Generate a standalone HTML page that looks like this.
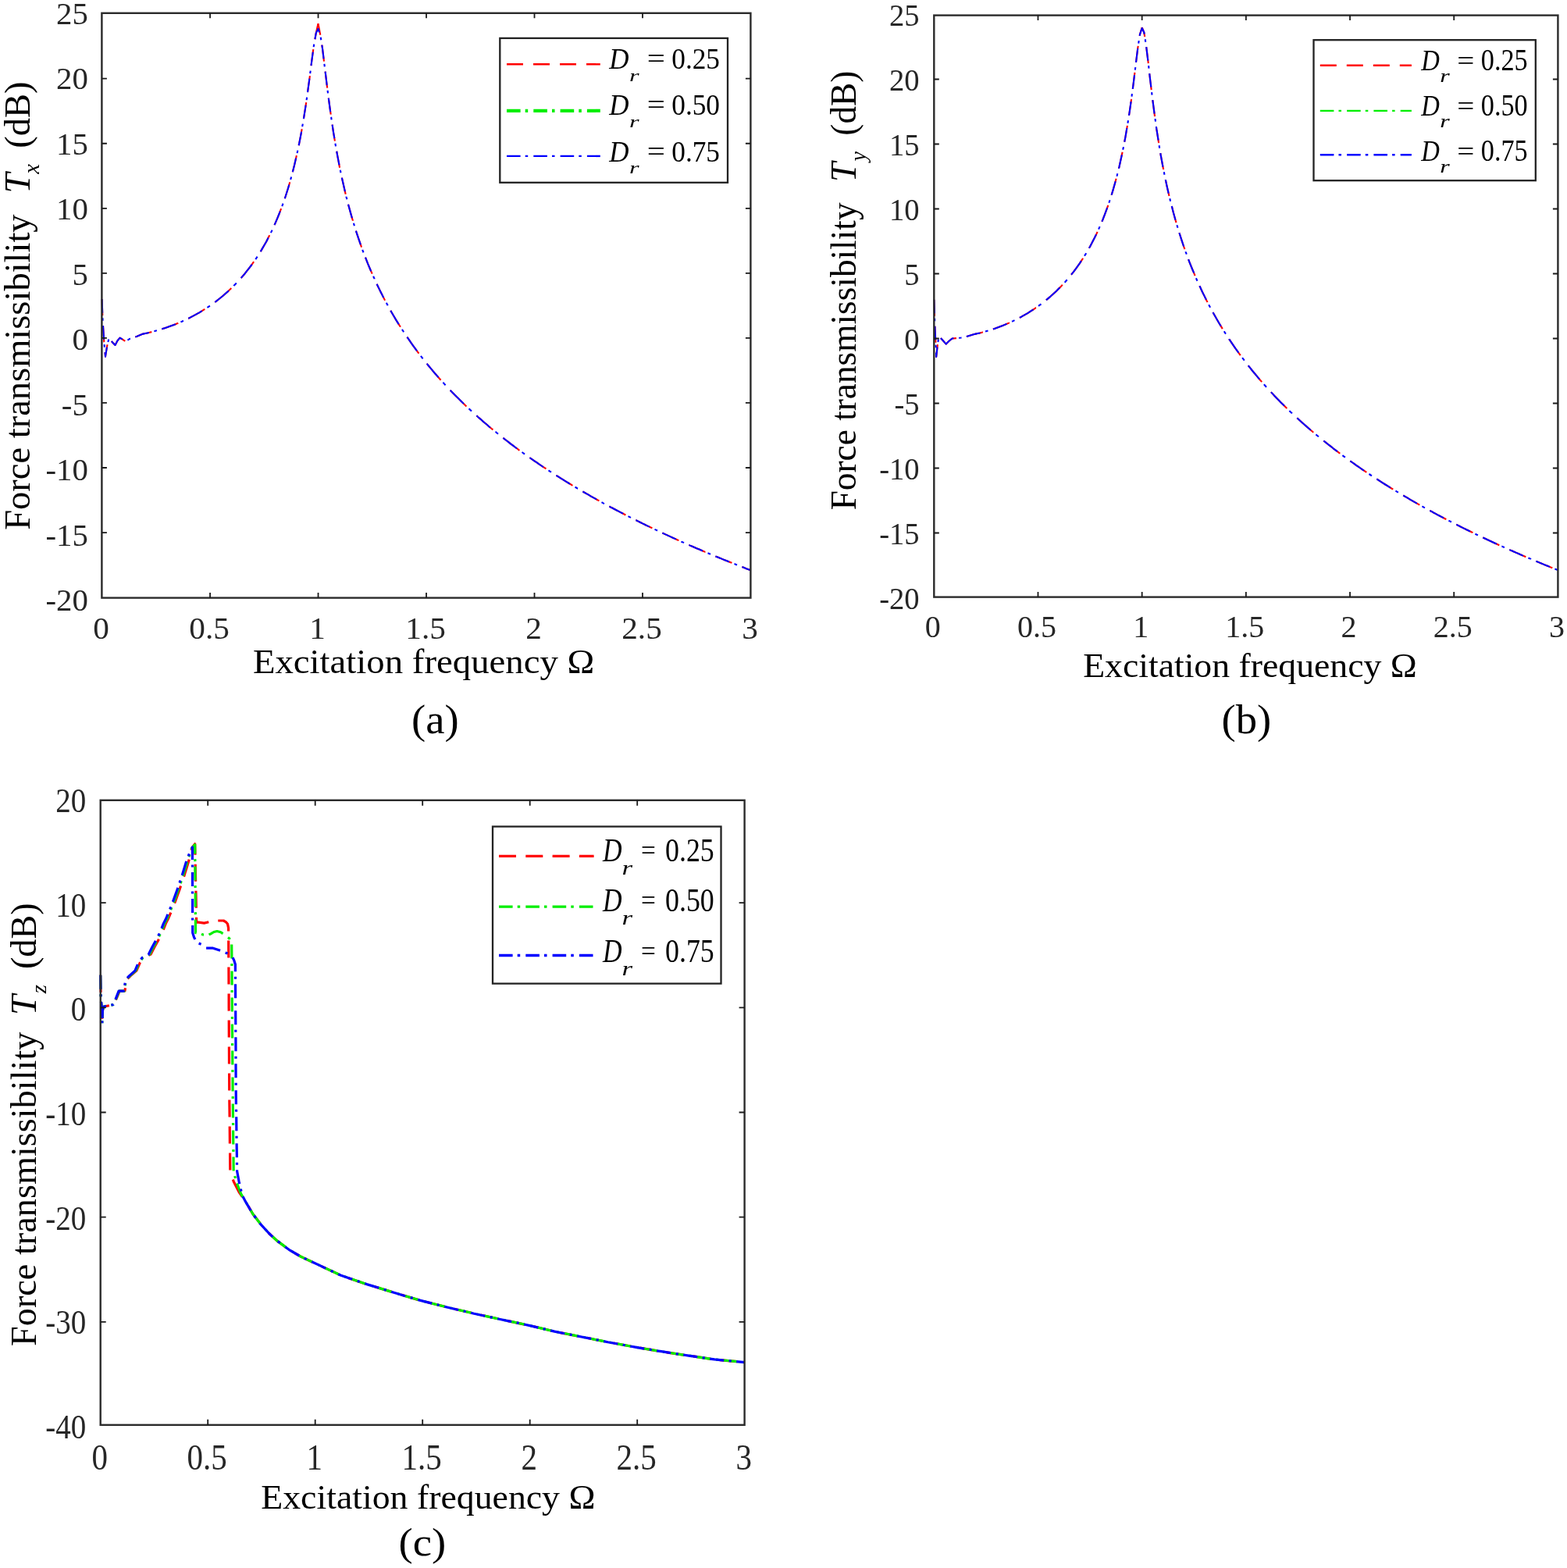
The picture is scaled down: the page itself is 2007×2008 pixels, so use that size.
<!DOCTYPE html>
<html><head><meta charset="utf-8"><title>Force transmissibility</title>
<style>html,body{margin:0;padding:0;background:#fff;} svg{display:block;}</style>
</head><body>
<svg width="2007" height="2008" viewBox="0 0 2007 2008" font-family="Liberation Serif, serif">
<rect width="2007" height="2008" fill="#fff"/>
<path d="M130.6 383.1L131.3 404.1M132.0 417.1L133.3 437.9L133.4 438.1M134.5 451.1L135.0 456.7L137.2 442.9L137.6 441.2M142.9 436.9L143.6 437.9L147.5 441.9L150.5 436.2L153.6 432.6L156.9 434.6L160.3 436.9M173.3 431.6L179.0 429.2L183.2 427.6L186.0 427.0L188.7 426.4L191.5 425.7L194.3 425.1L194.3 425.1M207.3 421.4L208.1 421.1L210.9 420.2L213.7 419.3L216.4 418.3L219.2 417.3L222.0 416.3L224.7 415.2L227.5 414.1L228.3 413.7M241.3 407.8L241.4 407.8L244.1 406.4L246.9 404.9L249.7 403.4L252.4 401.9L255.2 400.3L258.0 398.6L260.7 396.9L262.3 395.9M275.3 387.0L277.4 385.4L280.1 383.2L282.9 381.0L285.7 378.7L288.4 376.3L291.2 373.9L294.0 371.3L296.3 369.1M308.7 356.2L310.6 353.9L313.4 350.7L316.1 347.2L318.9 343.7L321.7 340.0L324.4 336.2L325.1 335.2M333.7 322.2L335.5 319.1L338.3 314.3L341.1 309.4L343.8 304.1L345.3 301.2M351.5 288.2L352.1 286.8L354.9 280.3L357.7 273.5L360.1 267.2M364.8 254.2L366.0 250.5L368.8 241.7L371.3 233.2M374.8 220.2L377.1 211.3L379.8 199.5L379.9 199.2M382.7 186.2L385.4 172.4L386.7 165.2M388.9 152.2L390.9 139.6L392.2 131.2M394.0 118.2L396.5 100.2L396.9 97.2M398.5 84.2L399.2 78.7L401.3 63.2M403.4 50.2L404.8 42.2L407.5 30.3" fill="none" stroke="#ff0000" stroke-width="2.1" stroke-linejoin="round"/>
<path d="M407.5 30.3L410.3 44.7M412.3 57.7L413.1 62.9L415.0 78.7M416.6 91.7L418.6 108.2L419.2 112.7M420.8 125.7L421.4 130.0L423.7 146.7M425.6 159.7L426.9 168.6L428.9 180.7M431.2 193.7L432.5 200.9L435.1 214.7M437.9 227.7L438.0 228.3L440.8 240.6L442.7 248.7M446.0 261.7L446.3 262.8L449.1 272.9L451.9 282.5L451.9 282.7M455.9 295.7L457.4 300.2L460.2 308.4L462.9 316.2L463.1 316.7M468.0 329.7L468.5 330.9L471.2 337.8L474.0 344.5L476.7 350.7M482.6 363.7L485.1 368.9L487.9 374.5L490.6 379.9L493.1 384.7M500.3 397.7L501.7 400.2L504.5 405.0L507.2 409.6L510.0 414.1L512.8 418.5L512.9 418.7M521.4 431.7L523.9 435.2L526.6 439.2L529.4 443.1L532.2 446.9L534.9 450.6L536.5 452.7M546.7 465.7L548.8 468.3L551.6 471.6L554.3 474.9L557.1 478.2L559.9 481.4L562.6 484.5L564.6 486.7M576.6 499.7L579.3 502.4L582.0 505.2L584.8 508.1L587.6 510.8L590.3 513.5L593.1 516.2L595.9 518.9L597.4 520.4M610.4 532.3L612.5 534.2L615.3 536.6L618.0 539.1L620.8 541.5L623.6 543.8L626.3 546.2L629.1 548.5L631.4 550.4M644.4 560.8L645.7 561.9L648.5 564.0L651.3 566.2L654.0 568.3L656.8 570.4L659.6 572.5L662.4 574.5L665.1 576.6L665.4 576.8M678.4 586.1L679.0 586.5L681.7 588.4L684.5 590.3L687.3 592.2L690.0 594.1L692.8 596.0L695.6 597.9L698.4 599.7L699.4 600.4M712.4 608.8L715.0 610.4L717.7 612.2L720.5 613.9L723.3 615.6L726.1 617.3L728.8 619.0L731.6 620.7L733.4 621.8M746.4 629.5L748.2 630.5L751.0 632.1L753.8 633.7L756.5 635.3L759.3 636.9L762.1 638.4L764.8 640.0L767.4 641.4M780.4 648.5L781.4 649.1L784.2 650.5L787.0 652.0L789.8 653.5L792.5 654.9L795.3 656.4L798.1 657.8L800.8 659.2L801.4 659.5M814.4 666.1L814.7 666.2L817.5 667.6L820.2 669.0L823.0 670.4L825.8 671.7L828.5 673.1L831.3 674.4L834.1 675.7L835.4 676.4M848.4 682.5L850.7 683.6L853.5 684.9L856.2 686.1L859.0 687.4L861.8 688.7L864.5 689.9L867.3 691.2L869.4 692.1M882.4 697.9L883.9 698.6L886.7 699.8L889.5 701.0L892.2 702.2L895.0 703.3L897.8 704.5L900.5 705.7L903.3 706.9L903.4 706.9M916.4 712.4L917.2 712.7L919.9 713.8L922.7 714.9L925.5 716.1L928.2 717.2L931.0 718.3L933.8 719.4L936.6 720.5L937.4 720.9M950.4 726.0L953.2 727.1L955.9 728.2L958.7 729.2L961.5 730.3" fill="none" stroke="#ff0000" stroke-width="2.1" stroke-linejoin="round"/>
<path d="M130.6 383.1L131.2 400.7M131.5 407.2L131.6 410.7M132.0 417.1L133.1 434.7M133.6 441.2L133.9 444.7M134.5 451.1L135.0 456.7L136.9 444.6M138.4 438.1L139.2 434.6M142.9 436.9L143.6 437.9L147.5 441.9L150.5 436.2L153.6 432.6L156.9 434.6L156.9 434.6M163.4 435.6L166.6 433.7L166.9 433.6M173.3 431.6L179.0 429.2L183.2 427.6L186.0 427.0L188.7 426.4L190.9 425.9M197.4 424.2L199.8 423.6L200.9 423.3M207.3 421.4L208.1 421.1L210.9 420.2L213.7 419.3L216.4 418.3L219.2 417.3L222.0 416.3L224.7 415.2L224.9 415.1M231.4 412.4L233.0 411.7L234.9 410.8M241.3 407.8L241.4 407.8L244.1 406.4L246.9 404.9L249.7 403.4L252.4 401.9L255.2 400.3L258.0 398.6L258.9 398.1M265.4 393.9L266.3 393.3L268.9 391.6M275.3 387.0L277.4 385.4L280.1 383.2L282.9 381.0L285.7 378.7L288.4 376.3L291.2 373.9L292.9 372.3M299.4 366.1L299.5 365.9L302.3 363.1L302.8 362.6M308.7 356.2L310.6 353.9L313.4 350.7L316.1 347.2L318.9 343.7L321.7 340.0L322.7 338.6M327.3 332.1L329.6 328.6M333.7 322.2L335.5 319.1L338.3 314.3L341.1 309.4L343.6 304.6M346.9 298.1L348.6 294.6M351.5 288.2L352.1 286.8L354.9 280.3L357.7 273.5L358.8 270.6M361.3 264.1L362.5 260.6M364.8 254.2L366.0 250.5L368.8 241.7L370.3 236.6M372.2 230.1L373.1 226.6M374.8 220.2L377.1 211.3L379.1 202.6M380.6 196.1L381.3 192.6M382.7 186.2L385.4 172.4L386.1 168.6M387.2 162.1L387.8 158.6M388.9 152.2L390.9 139.6L391.7 134.6M392.6 128.1L393.1 124.6M394.0 118.2L396.4 100.6M397.2 94.1L397.7 90.6M398.5 84.2L399.2 78.7L400.8 66.6M401.7 60.1L402.0 58.0L402.2 56.6M403.4 50.2L404.8 42.2L407.5 36.9L409.0 41.3M410.7 47.8L411.3 51.3M412.3 57.7L413.1 62.9L414.6 75.3M415.4 81.8L415.8 85.3L415.8 85.3M416.6 91.7L418.6 108.2L418.8 109.3M419.6 115.8L420.0 119.3M420.8 125.7L421.4 130.0L423.2 143.3M424.1 149.8L424.2 150.1L424.6 153.3M425.6 159.7L426.9 168.6L428.4 177.3M429.4 183.8L429.7 185.4L430.0 187.3M431.2 193.7L432.5 200.9L434.5 211.3M435.8 217.8L436.5 221.3M437.9 227.7L438.0 228.3L440.8 240.6L441.9 245.3M443.5 251.8L443.5 252.1L444.4 255.3M446.0 261.7L446.3 262.8L449.1 272.9L450.9 279.3M452.9 285.8L453.9 289.3M455.9 295.7L457.4 300.2L460.2 308.4L461.9 313.3M464.2 319.8L465.5 323.3M468.0 329.7L468.5 330.9L471.2 337.8L474.0 344.5L475.2 347.3M478.1 353.8L479.6 357.1L479.6 357.3M482.6 363.7L485.1 368.9L487.9 374.5L490.6 379.9L491.3 381.3M494.8 387.8L496.2 390.3L496.7 391.3M500.3 397.7L501.7 400.2L504.5 405.0L507.2 409.6L510.0 414.1L510.7 415.3M514.9 421.8L515.6 422.8L517.1 425.3M521.4 431.7L523.9 435.2L526.6 439.2L529.4 443.1L532.2 446.9L534.0 449.3M538.9 455.8L540.5 457.9L541.6 459.3M546.7 465.7L548.8 468.3L551.6 471.6L554.3 474.9L557.1 478.2L559.9 481.4L561.6 483.3M567.4 489.8L568.2 490.6L570.6 493.3M576.6 499.7L579.3 502.4L582.0 505.2L584.8 508.1L587.6 510.8L590.3 513.5L593.1 516.2L594.0 517.1M600.5 523.3L601.4 524.1L604.0 526.5M610.4 532.3L612.5 534.2L615.3 536.6L618.0 539.1L620.8 541.5L623.6 543.8L626.3 546.2L628.0 547.6M634.5 552.9L634.7 553.0L637.4 555.3L638.0 555.8M644.4 560.8L645.7 561.9L648.5 564.0L651.3 566.2L654.0 568.3L656.8 570.4L659.6 572.5L662.0 574.3M668.5 579.0L670.7 580.6L672.0 581.6M678.4 586.1L679.0 586.5L681.7 588.4L684.5 590.3L687.3 592.2L690.0 594.1L692.8 596.0L695.6 597.9L696.0 598.1M702.5 602.4L703.9 603.3L706.0 604.7M712.4 608.8L715.0 610.4L717.7 612.2L720.5 613.9L723.3 615.6L726.1 617.3L728.8 619.0L730.0 619.8M736.5 623.7L737.1 624.0L739.9 625.7L740.0 625.7M746.4 629.5L748.2 630.5L751.0 632.1L753.8 633.7L756.5 635.3L759.3 636.9L762.1 638.4L764.0 639.5M770.5 643.1L773.1 644.6L774.0 645.0M780.4 648.5L781.4 649.1L784.2 650.5L787.0 652.0L789.8 653.5L792.5 654.9L795.3 656.4L798.0 657.8M804.5 661.1L806.4 662.1L808.0 662.9M814.4 666.1L814.7 666.2L817.5 667.6L820.2 669.0L823.0 670.4L825.8 671.7L828.5 673.1L831.3 674.4L832.0 674.7M838.5 677.9L839.6 678.4L842.0 679.5M848.4 682.5L850.7 683.6L853.5 684.9L856.2 686.1L859.0 687.4L861.8 688.7L864.5 689.9L866.0 690.6M872.5 693.5L872.8 693.7L875.6 694.9L876.0 695.1M882.4 697.9L883.9 698.6L886.7 699.8L889.5 701.0L892.2 702.2L895.0 703.3L897.8 704.5L900.0 705.5M906.5 708.2L908.9 709.2L910.0 709.7M916.4 712.4L917.2 712.7L919.9 713.8L922.7 714.9L925.5 716.1L928.2 717.2L931.0 718.3L933.8 719.4L934.0 719.5M940.5 722.1L942.1 722.7L944.0 723.5M950.4 726.0L953.2 727.1L955.9 728.2L958.7 729.2L961.5 730.3" fill="none" stroke="#0000ff" stroke-width="2.1" stroke-linejoin="round"/>
<path d="M1196.3 383.7L1197.0 404.7M1197.4 417.7L1198.4 438.7M1199.0 451.7L1199.2 456.9L1200.8 441.8L1200.9 441.1M1204.8 432.9L1207.0 435.2L1211.7 440.6L1215.5 436.8L1219.5 433.5L1224.9 433.1M1237.9 430.9L1242.9 429.4L1246.9 428.2L1249.6 427.6L1252.2 427.0L1254.9 426.4L1257.6 425.7L1258.9 425.3M1271.9 421.4L1273.5 420.9L1276.2 420.0L1278.9 419.0L1281.5 418.0L1284.2 417.0L1286.9 415.9L1289.5 414.7L1292.2 413.6L1292.9 413.2M1305.9 406.9L1308.2 405.7L1310.8 404.2L1313.5 402.6L1316.2 401.1L1318.8 399.4L1321.5 397.7L1324.2 396.0L1326.8 394.1L1326.9 394.1M1339.9 384.3L1340.1 384.1L1342.8 381.9L1345.5 379.6L1348.1 377.2L1350.8 374.8L1353.5 372.3L1356.1 369.6L1358.8 366.9L1360.8 364.8M1372.0 351.8L1372.1 351.7L1374.8 348.4L1377.4 344.8L1380.1 341.2L1382.8 337.4L1385.4 333.4L1387.1 330.8M1394.9 317.8L1396.1 315.7L1398.7 310.8L1401.4 305.6L1404.1 300.2L1405.6 296.8M1411.3 283.8L1412.1 282.1L1414.7 275.3L1417.4 268.2L1419.3 262.8M1423.6 249.8L1425.4 243.9L1428.0 234.7L1429.6 228.8M1432.9 215.8L1433.4 214.0L1436.0 202.3L1437.6 194.8M1440.2 181.8L1441.4 175.6L1443.9 160.8M1446.0 147.8L1446.7 143.4L1449.1 126.8M1450.8 113.8L1452.0 104.4L1453.4 92.8M1455.0 79.8L1457.3 61.4L1457.7 58.8M1459.7 45.8L1460.0 43.9L1462.7 35.1" fill="none" stroke="#ff0000" stroke-width="2.1" stroke-linejoin="round"/>
<path d="M1462.7 35.1L1465.3 41.5L1466.2 47.1M1468.2 60.1L1470.7 80.3L1470.8 81.1M1472.2 94.1L1473.3 103.5L1474.7 115.1M1476.3 128.1L1478.7 146.4L1479.0 149.1M1480.9 162.1L1481.3 165.2L1484.0 182.4L1484.1 183.1M1486.3 196.1L1486.6 198.2L1489.3 212.7L1490.2 217.1M1492.8 230.1L1494.6 238.5L1497.3 250.2L1497.5 251.1M1500.8 264.1L1502.6 271.3L1505.3 281.0L1506.5 285.1M1510.4 298.1L1510.6 298.8L1513.3 307.1L1515.9 315.0L1517.4 319.1M1522.1 332.1L1523.9 336.8L1526.6 343.5L1529.3 349.9L1530.6 353.1M1536.4 366.1L1537.3 368.0L1539.9 373.7L1542.6 379.1L1545.2 384.5L1546.6 387.1M1553.5 400.1L1555.9 404.3L1558.6 409.0L1561.2 413.5L1563.9 417.9L1565.8 421.1M1574.2 434.1L1574.5 434.7L1577.2 438.7L1579.9 442.6L1582.5 446.4L1585.2 450.1L1587.9 453.8L1588.8 455.1M1598.7 468.1L1601.2 471.2L1603.8 474.5L1606.5 477.7L1609.2 480.9L1611.8 484.1L1614.5 487.2L1616.2 489.1M1627.9 502.1L1630.5 504.9L1633.1 507.7L1635.8 510.5L1638.5 513.2L1641.1 515.9L1643.8 518.6L1646.5 521.2L1648.3 523.0M1661.3 535.3L1662.4 536.3L1665.1 538.8L1667.8 541.2L1670.4 543.5L1673.1 545.9L1675.8 548.2L1678.4 550.5L1681.1 552.8L1682.3 553.8M1695.3 564.5L1697.1 565.9L1699.7 568.0L1702.4 570.1L1705.1 572.2L1707.7 574.3L1710.4 576.3L1713.1 578.3L1715.7 580.3L1716.3 580.8M1729.3 590.3L1731.7 592.0L1734.4 593.9L1737.0 595.8L1739.7 597.6L1742.4 599.5L1745.0 601.3L1747.7 603.1L1750.3 604.9M1763.3 613.5L1763.7 613.7L1766.3 615.4L1769.0 617.1L1771.7 618.8L1774.3 620.5L1777.0 622.2L1779.7 623.8L1782.3 625.5L1784.3 626.7M1797.3 634.5L1798.3 635.1L1801.0 636.7L1803.6 638.2L1806.3 639.8L1809.0 641.3L1811.6 642.9L1814.3 644.4L1816.9 645.9L1818.3 646.7M1831.3 653.9L1832.9 654.7L1835.6 656.2L1838.3 657.6L1840.9 659.1L1843.6 660.5L1846.2 661.9L1848.9 663.3L1851.6 664.7L1852.3 665.1M1865.3 671.8L1867.6 672.9L1870.2 674.2L1872.9 675.6L1875.5 676.9L1878.2 678.2L1880.9 679.5L1883.5 680.8L1886.2 682.1L1886.3 682.2M1899.3 688.4L1899.5 688.5L1902.2 689.8L1904.8 691.0L1907.5 692.3L1910.2 693.5L1912.8 694.7L1915.5 696.0L1918.2 697.2L1920.3 698.2M1933.3 704.0L1934.1 704.4L1936.8 705.5L1939.5 706.7L1942.1 707.9L1944.8 709.0L1947.5 710.2L1950.1 711.4L1952.8 712.5L1954.3 713.2M1967.3 718.7L1968.8 719.3L1971.4 720.4L1974.1 721.5L1976.8 722.6L1979.4 723.7L1982.1 724.8L1984.8 725.9L1987.4 726.9L1988.3 727.3" fill="none" stroke="#ff0000" stroke-width="2.1" stroke-linejoin="round"/>
<path d="M1196.3 383.7L1196.9 401.3M1197.1 407.8L1197.2 411.3M1197.4 417.7L1198.2 435.3M1198.5 441.8L1198.7 445.3M1199.0 451.7L1199.2 456.9L1200.5 444.5M1201.4 438.0L1201.9 434.5M1204.8 432.9L1207.0 435.2L1211.7 440.6L1215.5 436.8L1219.5 433.5L1221.5 433.3M1228.0 432.8L1230.9 432.5L1231.5 432.4M1237.9 430.9L1242.9 429.4L1246.9 428.2L1249.6 427.6L1252.2 427.0L1254.9 426.4L1255.5 426.2M1262.0 424.5L1262.9 424.2L1265.5 423.5M1271.9 421.4L1273.5 420.9L1276.2 420.0L1278.9 419.0L1281.5 418.0L1284.2 417.0L1286.9 415.9L1289.5 414.7L1289.5 414.7M1296.0 411.8L1297.5 411.1L1299.5 410.1M1305.9 406.9L1308.2 405.7L1310.8 404.2L1313.5 402.6L1316.2 401.1L1318.8 399.4L1321.5 397.7L1323.5 396.4M1330.0 391.9L1332.1 390.3L1333.5 389.3M1339.9 384.3L1340.1 384.1L1342.8 381.9L1345.5 379.6L1348.1 377.2L1350.8 374.8L1353.5 372.3L1356.1 369.6L1357.5 368.2M1363.6 361.7L1364.1 361.2L1366.7 358.2M1372.0 351.8L1372.1 351.7L1374.8 348.4L1377.4 344.8L1380.1 341.2L1382.8 337.4L1384.9 334.2M1389.0 327.7L1390.8 324.9L1391.2 324.2M1394.9 317.8L1396.1 315.7L1398.7 310.8L1401.4 305.6L1404.0 300.2M1407.1 293.7L1408.6 290.2M1411.3 283.8L1412.1 282.1L1414.7 275.3L1417.4 268.2L1418.1 266.2M1420.4 259.7L1421.5 256.2M1423.6 249.8L1425.4 243.9L1428.0 234.7L1428.7 232.2M1430.4 225.7L1430.7 224.7L1431.3 222.2M1432.9 215.8L1433.4 214.0L1436.0 202.3L1436.9 198.2M1438.2 191.7L1438.7 189.6L1439.0 188.2M1440.2 181.8L1441.4 175.6L1443.3 164.2M1444.4 157.7L1445.0 154.2M1446.0 147.8L1446.7 143.4L1448.6 130.2M1449.5 123.7L1449.9 120.2M1450.8 113.8L1452.0 104.4L1453.0 96.2M1453.8 89.7L1454.3 86.2M1455.0 79.8L1457.2 62.2M1458.2 55.7L1458.7 52.2M1459.7 45.8L1460.0 43.9L1462.7 36.0L1465.3 41.5L1465.7 43.7M1466.7 50.2L1467.3 53.7M1468.2 60.1L1470.3 77.7M1471.1 84.2L1471.5 87.7M1472.2 94.1L1473.3 103.5L1474.3 111.7M1475.1 118.2L1475.5 121.7M1476.3 128.1L1478.6 145.7M1479.5 152.2L1480.0 155.7M1480.9 162.1L1481.3 165.2L1483.6 179.7M1484.6 186.2L1485.2 189.7M1486.3 196.1L1486.6 198.2L1489.3 212.7L1489.5 213.7M1490.8 220.2L1491.5 223.7M1492.8 230.1L1494.6 238.5L1496.7 247.7M1498.3 254.2L1499.1 257.7M1500.8 264.1L1502.6 271.3L1505.3 281.0L1505.5 281.7M1507.4 288.2L1508.0 290.1L1508.4 291.7M1510.4 298.1L1510.6 298.8L1513.3 307.1L1515.9 315.0L1516.2 315.7M1518.5 322.2L1518.6 322.6L1519.8 325.7M1522.1 332.1L1523.9 336.8L1526.6 343.5L1529.2 349.7M1531.9 356.2L1533.5 359.7M1536.4 366.1L1537.3 368.0L1539.9 373.7L1542.6 379.1L1544.9 383.7M1548.2 390.2L1550.1 393.7M1553.5 400.1L1555.9 404.3L1558.6 409.0L1561.2 413.5L1563.8 417.7M1567.8 424.2L1569.2 426.5L1570.0 427.7M1574.2 434.1L1574.5 434.7L1577.2 438.7L1579.9 442.6L1582.5 446.4L1585.2 450.1L1586.3 451.7M1591.1 458.2L1593.2 460.9L1593.8 461.7M1598.7 468.1L1601.2 471.2L1603.8 474.5L1606.5 477.7L1609.2 480.9L1611.8 484.1L1613.2 485.7M1618.9 492.2L1619.8 493.3L1622.0 495.7M1627.9 502.1L1630.5 504.9L1633.1 507.7L1635.8 510.5L1638.5 513.2L1641.1 515.9L1643.8 518.6L1644.9 519.7M1651.4 526.0L1651.8 526.4L1654.5 528.9L1654.9 529.4M1661.3 535.3L1662.4 536.3L1665.1 538.8L1667.8 541.2L1670.4 543.5L1673.1 545.9L1675.8 548.2L1678.4 550.5L1678.9 550.9M1685.4 556.4L1686.4 557.2L1688.9 559.3M1695.3 564.5L1697.1 565.9L1699.7 568.0L1702.4 570.1L1705.1 572.2L1707.7 574.3L1710.4 576.3L1712.9 578.2M1719.4 583.1L1721.0 584.3L1722.9 585.7M1729.3 590.3L1731.7 592.0L1734.4 593.9L1737.0 595.8L1739.7 597.6L1742.4 599.5L1745.0 601.3L1746.9 602.6M1753.4 607.0L1755.7 608.5L1756.9 609.3M1763.3 613.5L1763.7 613.7L1766.3 615.4L1769.0 617.1L1771.7 618.8L1774.3 620.5L1777.0 622.2L1779.7 623.8L1780.9 624.6M1787.4 628.6L1787.6 628.7L1790.3 630.3L1790.9 630.7M1797.3 634.5L1798.3 635.1L1801.0 636.7L1803.6 638.2L1806.3 639.8L1809.0 641.3L1811.6 642.9L1814.3 644.4L1814.9 644.7M1821.4 648.4L1822.3 648.9L1824.9 650.3M1831.3 653.9L1832.9 654.7L1835.6 656.2L1838.3 657.6L1840.9 659.1L1843.6 660.5L1846.2 661.9L1848.9 663.3L1848.9 663.3M1855.4 666.7L1856.9 667.4L1858.9 668.5M1865.3 671.8L1867.6 672.9L1870.2 674.2L1872.9 675.6L1875.5 676.9L1878.2 678.2L1880.9 679.5L1882.9 680.5M1889.4 683.7L1891.5 684.7L1892.9 685.4M1899.3 688.4L1899.5 688.5L1902.2 689.8L1904.8 691.0L1907.5 692.3L1910.2 693.5L1912.8 694.7L1915.5 696.0L1916.9 696.6M1923.4 699.6L1923.5 699.6L1926.2 700.8L1926.9 701.1M1933.3 704.0L1934.1 704.4L1936.8 705.5L1939.5 706.7L1942.1 707.9L1944.8 709.0L1947.5 710.2L1950.1 711.4L1950.9 711.7M1957.4 714.5L1958.1 714.8L1960.8 715.9L1960.9 716.0M1967.3 718.7L1968.8 719.3L1971.4 720.4L1974.1 721.5L1976.8 722.6L1979.4 723.7L1982.1 724.8L1984.8 725.9L1984.9 725.9M1991.4 728.6L1992.7 729.1L1994.9 730.0" fill="none" stroke="#0000ff" stroke-width="2.1" stroke-linejoin="round"/>
<path d="M128.7 1248.8L129.1 1270.8M129.5 1282.8L130.1 1288.7L130.7 1304.8M131.1 1304.0L131.4 1294.3L132.3 1289.6L134.5 1288.7L139.9 1287.7M148.4 1280.5L148.9 1279.3L153.2 1269.1L159.9 1269.1L160.5 1265.3M163.5 1253.3L167.2 1249.6L174.8 1243.1L179.3 1232.9L179.7 1232.4M190.4 1223.3L193.1 1222.0L197.6 1213.3L202.8 1203.9L203.4 1202.6M209.2 1190.6L212.2 1182.9L215.7 1176.0L218.8 1168.6M223.6 1156.6L230.3 1138.3L231.5 1134.6M235.5 1122.6L236.1 1120.9L241.9 1102.0L242.2 1100.6M245.0 1088.6L245.6 1086.3L249.7 1080.7L250.0 1094.7M250.2 1106.7L250.6 1128.7M250.9 1140.7L251.3 1162.7M251.5 1174.7L251.6 1181.1L254.4 1181.1L261.5 1182.1L267.3 1180.7M279.3 1179.0L286.3 1179.0L289.6 1180.9L291.5 1183.2L292.6 1188.3L292.6 1192.6M292.7 1204.6L292.8 1226.6M292.9 1238.6L293.0 1260.6M293.1 1272.6L293.1 1290.3L293.2 1294.6M293.2 1306.6L293.3 1328.6M293.4 1340.6L293.5 1362.6M293.6 1374.6L293.7 1396.6M293.8 1408.6L294.1 1430.6M294.2 1442.6L294.4 1464.6M294.6 1476.6L294.8 1498.6M298.4 1510.6L299.2 1513.1L306.1 1526.5L310.3 1532.6M318.0 1544.6L323.9 1554.7L333.1 1566.6M343.8 1578.6L344.6 1579.5L354.8 1588.9L365.7 1597.0M377.7 1604.8L385.6 1609.4L399.7 1616.0M411.7 1621.6L433.7 1631.9M445.7 1636.4L467.7 1643.9M479.7 1647.7L501.7 1654.4M513.7 1658.0L535.7 1664.6M547.7 1667.7L569.7 1673.3M581.7 1676.2L603.7 1681.3M615.7 1684.0L637.7 1688.8M649.7 1691.4L671.7 1696.1M683.7 1698.8L705.7 1704.0M717.7 1706.6L739.7 1711.0M751.7 1713.3L773.7 1717.7M785.7 1720.0L807.7 1724.0M819.7 1726.2L841.7 1729.9M853.7 1731.8L875.7 1735.1M887.7 1736.9L909.7 1740.1M921.7 1741.6L943.7 1743.6" fill="none" stroke="#ff0000" stroke-width="3.2" stroke-linejoin="round"/>
<path d="M128.7 1248.8L129.0 1266.8M129.1 1273.3L129.2 1276.3M129.5 1282.8L130.1 1288.7L130.5 1300.8M130.8 1307.3L130.9 1310.3M131.1 1304.0L131.4 1294.3L132.3 1289.6L134.5 1288.7L135.9 1288.4M142.4 1287.1L145.4 1286.6M148.1 1280.1L148.5 1279.3L152.6 1269.1L159.2 1269.1L159.3 1268.7M160.3 1262.2L160.7 1259.2M163.3 1252.7L166.4 1249.6L173.8 1243.1L177.0 1235.6M181.1 1229.1L183.1 1226.4L183.5 1226.2M190.0 1222.9L191.7 1222.0L196.1 1213.3L200.3 1205.7M203.6 1199.2L205.1 1196.2M208.1 1189.7L210.6 1182.9L214.2 1176.0L216.0 1171.7M218.7 1165.2L219.9 1162.2M222.5 1155.7L228.8 1138.3L229.0 1137.7M231.2 1131.2L232.2 1128.2M234.3 1121.7L234.6 1120.9L239.8 1103.7M242.0 1097.2L243.0 1094.2M245.1 1087.7L245.6 1086.3L249.7 1081.6L249.8 1093.6M249.8 1100.1L249.9 1103.1M249.9 1109.6L250.0 1127.6M250.1 1134.1L250.1 1137.1M250.2 1143.6L250.3 1161.6M250.3 1168.1L250.4 1171.1M250.4 1177.6L250.5 1194.6L251.5 1194.6M258.0 1196.1L260.1 1197.0L261.0 1197.1M267.5 1196.9L270.3 1195.7L273.9 1193.5L278.0 1192.5L282.7 1193.7L285.5 1195.6M292.0 1200.4L293.7 1201.7L294.4 1203.0M296.7 1209.5L296.9 1227.5M296.9 1234.0L296.9 1237.0M297.0 1243.5L297.1 1261.5M297.1 1268.0L297.1 1271.0M297.2 1277.5L297.3 1290.3L297.3 1295.5M297.4 1302.0L297.4 1305.0M297.4 1311.5L297.6 1329.5M297.6 1336.0L297.6 1339.0M297.7 1345.5L297.8 1363.5M297.9 1370.0L297.9 1373.0M298.0 1379.5L298.1 1397.5M298.2 1404.0L298.2 1407.0M298.3 1413.5L298.5 1431.5M298.5 1438.0L298.6 1441.0M298.6 1447.5L298.8 1465.5M298.9 1472.0L298.9 1475.0M299.0 1481.5L299.2 1499.5M300.8 1506.0L301.5 1509.0M303.4 1515.5L308.8 1529.2L311.4 1533.5M315.2 1540.0L317.0 1543.0M320.9 1549.5L323.9 1554.7L333.7 1567.5M339.5 1574.0L342.3 1577.0M348.6 1583.2L354.8 1588.9L366.6 1597.6M373.1 1602.0L376.1 1603.8M382.6 1607.7L385.6 1609.4L400.6 1616.4M407.1 1619.4L409.2 1620.4L410.1 1620.8M416.6 1623.9L434.6 1632.3M441.1 1634.8L444.1 1635.8M450.6 1638.1L468.6 1644.2M475.1 1646.2L478.1 1647.2M484.6 1649.1L502.6 1654.7M509.1 1656.6L512.1 1657.5M518.6 1659.5L536.6 1664.8M543.1 1666.6L546.1 1667.3M552.6 1669.0L570.6 1673.5M577.1 1675.1L580.1 1675.8M586.6 1677.3L604.6 1681.5M611.1 1683.0L614.1 1683.7M620.6 1685.1L638.6 1689.0M645.1 1690.4L648.1 1691.0M654.6 1692.4L672.6 1696.3M679.1 1697.7L682.1 1698.4M688.6 1699.9L706.6 1704.2M713.1 1705.7L716.1 1706.3M722.6 1707.5L740.6 1711.1M747.1 1712.4L750.1 1713.0M756.6 1714.3L774.6 1717.9M781.1 1719.1L784.1 1719.7M790.6 1720.9L808.6 1724.2M815.1 1725.4L818.1 1725.9M824.6 1727.0L842.6 1730.0M849.1 1731.1L852.1 1731.5M858.6 1732.5L876.6 1735.3M883.1 1736.2L886.1 1736.7M892.6 1737.6L910.6 1740.3M917.1 1741.1L920.1 1741.4M926.6 1742.0L944.6 1743.7M951.1 1744.3L953.7 1744.6" fill="none" stroke="#00ee00" stroke-width="3.2" stroke-linejoin="round"/>
<path d="M128.7 1248.8L129.0 1266.8M129.1 1273.3L129.2 1276.3M129.5 1282.8L130.1 1288.7L130.5 1300.8M130.8 1307.3L130.9 1310.3M131.1 1304.0L131.4 1294.3L132.3 1289.6L134.5 1288.7L135.9 1288.4M142.4 1287.1L145.1 1286.5L145.2 1286.3M147.9 1279.8L148.1 1279.3L152.1 1269.1L158.6 1269.1L158.7 1268.3M159.7 1261.8L160.2 1258.8M163.0 1252.3L165.6 1249.6L172.9 1243.1L176.3 1235.0M180.5 1228.5L182.1 1226.4L183.0 1225.9M189.5 1222.5L190.4 1222.0L194.7 1213.3L199.4 1204.9M202.7 1198.4L204.2 1195.4M207.0 1188.9L209.3 1182.9L212.8 1176.0L214.9 1170.9M217.6 1164.4L218.9 1161.4M221.4 1154.9L227.4 1138.3L227.9 1136.9M230.0 1130.4L231.0 1127.4M233.2 1120.9L238.7 1102.9M241.2 1096.4L242.4 1093.4M245.3 1086.9L246.4 1085.0L246.4 1101.0M246.5 1107.5L246.5 1110.5M246.5 1117.0L246.5 1135.0M246.5 1141.5L246.5 1144.5M246.6 1151.0L246.6 1169.0M246.6 1175.5L246.6 1178.5M246.7 1185.0L246.7 1194.6L248.6 1200.4L250.0 1203.0M254.6 1208.1L257.6 1209.3M264.1 1214.2L272.8 1214.2L282.1 1217.3M288.6 1219.9L291.6 1221.1M298.0 1226.2L299.8 1229.9L301.4 1235.0L301.4 1244.2M301.5 1250.7L301.5 1253.7M301.5 1260.2L301.6 1278.2M301.6 1284.7L301.7 1287.7M301.7 1294.2L301.8 1312.2M301.8 1318.7L301.8 1321.7M301.9 1328.2L302.0 1346.2M302.0 1352.7L302.0 1355.7M302.0 1362.2L302.1 1380.2M302.2 1386.7L302.2 1389.7M302.2 1396.2L302.2 1397.7L302.4 1414.2M302.5 1420.7L302.6 1423.7M302.7 1430.2L302.9 1448.2M303.0 1454.7L303.0 1457.7M303.1 1464.2L303.4 1482.2M303.5 1488.7L303.5 1491.7M303.6 1498.2L303.6 1499.7L306.1 1513.1L306.8 1516.2M308.3 1522.7L309.0 1525.7M311.0 1532.2L313.8 1537.6L321.2 1550.2M325.5 1556.7L327.7 1559.7M332.7 1566.2L334.4 1568.4L344.6 1579.5L349.2 1583.8M355.7 1589.6L358.7 1591.8M365.2 1596.7L370.1 1600.3L383.2 1608.0M389.7 1611.4L392.7 1612.8M399.2 1615.8L409.2 1620.4L417.2 1624.2M423.7 1627.2L426.7 1628.6M433.2 1631.7L436.7 1633.3L451.2 1638.3M457.7 1640.5L460.7 1641.5M467.2 1643.7L469.7 1644.6L485.2 1649.3M491.7 1651.3L494.7 1652.3M501.2 1654.2L505.2 1655.5L519.2 1659.7M525.7 1661.6L528.7 1662.5M535.2 1664.4L538.5 1665.4L553.2 1669.1M559.7 1670.8L562.7 1671.5M569.2 1673.2L573.4 1674.2L587.2 1677.5M593.7 1679.0L596.7 1679.7M603.2 1681.2L607.2 1682.2L621.2 1685.2M627.7 1686.6L630.7 1687.3M637.2 1688.7L641.8 1689.7L655.2 1692.6M661.7 1693.9L664.7 1694.6M671.2 1696.0L678.7 1697.6L689.2 1700.1M695.7 1701.6L698.7 1702.4M705.2 1703.9L710.3 1705.1L723.2 1707.7M729.7 1709.0L732.7 1709.6M739.2 1710.9L744.7 1712.0L757.2 1714.4M763.7 1715.7L766.7 1716.3M773.2 1717.6L778.5 1718.7L791.2 1721.0M797.7 1722.2L800.7 1722.8M807.2 1724.0L813.5 1725.1L825.2 1727.1M831.7 1728.2L834.7 1728.7M841.2 1729.8L847.0 1730.7L859.2 1732.6M865.7 1733.6L868.7 1734.1M875.2 1735.0L882.2 1736.1L893.2 1737.7M899.7 1738.7L902.7 1739.1M909.2 1740.1L915.2 1740.9L927.2 1742.1M933.7 1742.7L936.7 1743.0M943.2 1743.6L953.7 1744.6" fill="none" stroke="#0000ff" stroke-width="3.2" stroke-linejoin="round"/>
<rect x="130.4" y="16.8" width="831.00" height="748.80" fill="none" stroke="#2b2b2b" stroke-width="2.4"/>
<rect x="1196.3" y="19.6" width="799.10" height="745.00" fill="none" stroke="#2b2b2b" stroke-width="2.4"/>
<rect x="128.7" y="1024.8" width="824.90" height="800.00" fill="none" stroke="#2b2b2b" stroke-width="2.4"/>
<path d="M269.06 765.60v-6.5M269.06 16.80v6.5M407.54 765.60v-6.5M407.54 16.80v6.5M546.03 765.60v-6.5M546.03 16.80v6.5M684.51 765.60v-6.5M684.51 16.80v6.5M823.00 765.60v-6.5M823.00 16.80v6.5M130.40 682.05h6.5M961.40 682.05h-6.5M130.40 599.00h6.5M961.40 599.00h-6.5M130.40 515.95h6.5M961.40 515.95h-6.5M130.40 432.90h6.5M961.40 432.90h-6.5M130.40 349.85h6.5M961.40 349.85h-6.5M130.40 266.80h6.5M961.40 266.80h-6.5M130.40 183.75h6.5M961.40 183.75h-6.5M130.40 100.70h6.5M961.40 100.70h-6.5" stroke="#1a1a1a" stroke-width="1.8" fill="none"/>
<path d="M1329.48 764.60v-6.5M1329.48 19.60v6.5M1462.67 764.60v-6.5M1462.67 19.60v6.5M1595.86 764.60v-6.5M1595.86 19.60v6.5M1729.04 764.60v-6.5M1729.04 19.60v6.5M1862.22 764.60v-6.5M1862.22 19.60v6.5M1196.30 682.50h6.5M1995.40 682.50h-6.5M1196.30 599.50h6.5M1995.40 599.50h-6.5M1196.30 516.50h6.5M1995.40 516.50h-6.5M1196.30 433.50h6.5M1995.40 433.50h-6.5M1196.30 350.50h6.5M1995.40 350.50h-6.5M1196.30 267.50h6.5M1995.40 267.50h-6.5M1196.30 184.50h6.5M1995.40 184.50h-6.5M1196.30 101.50h6.5M1995.40 101.50h-6.5" stroke="#1a1a1a" stroke-width="1.8" fill="none"/>
<path d="M266.20 1824.80v-7M266.20 1024.80v7M403.70 1824.80v-7M403.70 1024.80v7M541.20 1824.80v-7M541.20 1024.80v7M678.70 1824.80v-7M678.70 1024.80v7M816.20 1824.80v-7M816.20 1024.80v7M128.70 1692.90h7M953.60 1692.90h-7M128.70 1558.70h7M953.60 1558.70h-7M128.70 1424.50h7M953.60 1424.50h-7M128.70 1290.30h7M953.60 1290.30h-7M128.70 1156.10h7M953.60 1156.10h-7" stroke="#1a1a1a" stroke-width="1.8" fill="none"/>
<text transform="translate(112.80 782.20) scale(1.02 1.0)" font-size="40" text-anchor="end" fill="#262626">-20</text>
<text transform="translate(1177.60 780.10) scale(0.965 1.0)" font-size="40" text-anchor="end" fill="#262626">-20</text>
<text transform="translate(112.80 698.70) scale(1.02 1.0)" font-size="40" text-anchor="end" fill="#262626">-15</text>
<text transform="translate(1177.60 697.10) scale(0.965 1.0)" font-size="40" text-anchor="end" fill="#262626">-15</text>
<text transform="translate(112.80 615.20) scale(1.02 1.0)" font-size="40" text-anchor="end" fill="#262626">-10</text>
<text transform="translate(1177.60 614.10) scale(0.965 1.0)" font-size="40" text-anchor="end" fill="#262626">-10</text>
<text transform="translate(112.80 531.70) scale(1.02 1.0)" font-size="40" text-anchor="end" fill="#262626">-5</text>
<text transform="translate(1177.60 531.10) scale(0.965 1.0)" font-size="40" text-anchor="end" fill="#262626">-5</text>
<text transform="translate(112.80 448.20) scale(1.02 1.0)" font-size="40" text-anchor="end" fill="#262626">0</text>
<text transform="translate(1177.60 448.10) scale(0.965 1.0)" font-size="40" text-anchor="end" fill="#262626">0</text>
<text transform="translate(112.80 364.70) scale(1.02 1.0)" font-size="40" text-anchor="end" fill="#262626">5</text>
<text transform="translate(1177.60 365.10) scale(0.965 1.0)" font-size="40" text-anchor="end" fill="#262626">5</text>
<text transform="translate(112.80 281.20) scale(1.02 1.0)" font-size="40" text-anchor="end" fill="#262626">10</text>
<text transform="translate(1177.60 282.10) scale(0.965 1.0)" font-size="40" text-anchor="end" fill="#262626">10</text>
<text transform="translate(112.80 197.70) scale(1.02 1.0)" font-size="40" text-anchor="end" fill="#262626">15</text>
<text transform="translate(1177.60 199.10) scale(0.965 1.0)" font-size="40" text-anchor="end" fill="#262626">15</text>
<text transform="translate(112.80 114.20) scale(1.02 1.0)" font-size="40" text-anchor="end" fill="#262626">20</text>
<text transform="translate(1177.60 116.10) scale(0.965 1.0)" font-size="40" text-anchor="end" fill="#262626">20</text>
<text transform="translate(112.80 30.70) scale(1.02 1.0)" font-size="40" text-anchor="end" fill="#262626">25</text>
<text transform="translate(1177.60 33.10) scale(0.965 1.0)" font-size="40" text-anchor="end" fill="#262626">25</text>
<text transform="translate(110.30 1841.85) scale(1.0 1.16)" font-size="39" text-anchor="end" fill="#262626">-40</text>
<text transform="translate(110.30 1708.20) scale(1.0 1.16)" font-size="39" text-anchor="end" fill="#262626">-30</text>
<text transform="translate(110.30 1574.55) scale(1.0 1.16)" font-size="39" text-anchor="end" fill="#262626">-20</text>
<text transform="translate(110.30 1440.90) scale(1.0 1.16)" font-size="39" text-anchor="end" fill="#262626">-10</text>
<text transform="translate(110.30 1307.25) scale(1.0 1.16)" font-size="39" text-anchor="end" fill="#262626">0</text>
<text transform="translate(110.30 1173.60) scale(1.0 1.16)" font-size="39" text-anchor="end" fill="#262626">10</text>
<text transform="translate(110.30 1039.95) scale(1.0 1.16)" font-size="39" text-anchor="end" fill="#262626">20</text>
<text transform="translate(129.57 818.00) scale(1.03 1.0)" font-size="40" text-anchor="middle" fill="#262626">0</text>
<text transform="translate(1194.80 816.30) scale(1.0 1.0)" font-size="40" text-anchor="middle" fill="#262626">0</text>
<text transform="translate(127.70 1881.60) scale(1.0 1.14)" font-size="41" text-anchor="middle" fill="#262626">0</text>
<text transform="translate(268.06 818.00) scale(1.03 1.0)" font-size="40" text-anchor="middle" fill="#262626">0.5</text>
<text transform="translate(1327.98 816.30) scale(1.0 1.0)" font-size="40" text-anchor="middle" fill="#262626">0.5</text>
<text transform="translate(265.20 1881.60) scale(1.0 1.14)" font-size="41" text-anchor="middle" fill="#262626">0.5</text>
<text transform="translate(406.54 818.00) scale(1.03 1.0)" font-size="40" text-anchor="middle" fill="#262626">1</text>
<text transform="translate(1461.17 816.30) scale(1.0 1.0)" font-size="40" text-anchor="middle" fill="#262626">1</text>
<text transform="translate(402.70 1881.60) scale(1.0 1.14)" font-size="41" text-anchor="middle" fill="#262626">1</text>
<text transform="translate(545.03 818.00) scale(1.03 1.0)" font-size="40" text-anchor="middle" fill="#262626">1.5</text>
<text transform="translate(1594.36 816.30) scale(1.0 1.0)" font-size="40" text-anchor="middle" fill="#262626">1.5</text>
<text transform="translate(540.20 1881.60) scale(1.0 1.14)" font-size="41" text-anchor="middle" fill="#262626">1.5</text>
<text transform="translate(683.51 818.00) scale(1.03 1.0)" font-size="40" text-anchor="middle" fill="#262626">2</text>
<text transform="translate(1727.54 816.30) scale(1.0 1.0)" font-size="40" text-anchor="middle" fill="#262626">2</text>
<text transform="translate(677.70 1881.60) scale(1.0 1.14)" font-size="41" text-anchor="middle" fill="#262626">2</text>
<text transform="translate(822.00 818.00) scale(1.03 1.0)" font-size="40" text-anchor="middle" fill="#262626">2.5</text>
<text transform="translate(1860.72 816.30) scale(1.0 1.0)" font-size="40" text-anchor="middle" fill="#262626">2.5</text>
<text transform="translate(815.20 1881.60) scale(1.0 1.14)" font-size="41" text-anchor="middle" fill="#262626">2.5</text>
<text transform="translate(960.48 818.00) scale(1.03 1.0)" font-size="40" text-anchor="middle" fill="#262626">3</text>
<text transform="translate(1993.91 816.30) scale(1.0 1.0)" font-size="40" text-anchor="middle" fill="#262626">3</text>
<text transform="translate(952.70 1881.60) scale(1.0 1.14)" font-size="41" text-anchor="middle" fill="#262626">3</text>
<text transform="matrix(0.46785 0 0 0.45191 323.896 861.800)" font-size="100" fill="#000">Excitation frequency Ω</text>
<text transform="matrix(0.45750 0 0 0.43664 1387.128 867.300)" font-size="100" fill="#000">Excitation frequency Ω</text>
<text transform="matrix(0.45814 0 0 0.43969 334.226 1931.600)" font-size="100" fill="#000">Excitation frequency Ω</text>
<text transform="matrix(0 -0.46528 0.46061 0 38.000 677.400)" font-size="100" fill="#000"><tspan x="-3">Force transmissibility</tspan><tspan x="924.2" font-style="italic">T</tspan><tspan x="977.0" dy="27" font-size="62" font-style="italic">x</tspan><tspan x="1048.2" dy="-27">(dB)</tspan></text>
<text transform="matrix(0 -0.45312 0.47273 0 1096.400 652.000)" font-size="100" fill="#000"><tspan x="-3">Force transmissibility</tspan><tspan x="924.5" font-style="italic">T</tspan><tspan x="983.0" dy="27" font-size="62" font-style="italic">y</tspan><tspan x="1055.7" dy="-27">(dB)</tspan></text>
<text transform="matrix(0 -0.46300 0.45758 0 46.300 1722.600)" font-size="100" fill="#000"><tspan x="-3">Force transmissibility</tspan><tspan x="912.7" font-style="italic">T</tspan><tspan x="972.5" dy="27" font-size="62" font-style="italic">z</tspan><tspan x="1040.0" dy="-27">(dB)</tspan></text>
<rect x="640.3" y="48.9" width="291.70" height="184.90" fill="#fff" stroke="#222" stroke-width="2.3"/>
<path d="M649 82.3H768.8" stroke="#ff0000" stroke-width="2.4" stroke-dasharray="21 13" fill="none"/>
<path d="M649 141.8H768.8" stroke="#00ee00" stroke-width="4.2" stroke-dasharray="17.6 6.1 3.5 7.1" fill="none"/>
<path d="M649 199.9H768.8" stroke="#0000ff" stroke-width="2.4" stroke-dasharray="17.6 6.1 3.5 7.1" fill="none"/>
<text transform="matrix(0.35000 0 0 0.37557 780.350 88.100)" font-size="100" fill="#000"><tspan font-style="italic">D</tspan></text>
<text transform="matrix(0.32286 0 0 0.20426 805.909 103.500)" font-size="100" fill="#000" ><tspan font-style="italic">r</tspan></text>
<text transform="matrix(0.41064 0 0 0.34800 828.847 87.008)" font-size="100" fill="#000" >=</text>
<text transform="matrix(0.35269 0 0 0.38168 860.289 88.100)" font-size="100" fill="#000">0.25</text>
<text transform="matrix(0.35000 0 0 0.37557 780.350 147.100)" font-size="100" fill="#000"><tspan font-style="italic">D</tspan></text>
<text transform="matrix(0.32286 0 0 0.20426 805.909 162.500)" font-size="100" fill="#000" ><tspan font-style="italic">r</tspan></text>
<text transform="matrix(0.41064 0 0 0.34800 828.847 146.008)" font-size="100" fill="#000" >=</text>
<text transform="matrix(0.35269 0 0 0.38168 860.289 147.100)" font-size="100" fill="#000">0.50</text>
<text transform="matrix(0.35000 0 0 0.37557 780.350 207.000)" font-size="100" fill="#000"><tspan font-style="italic">D</tspan></text>
<text transform="matrix(0.32286 0 0 0.20426 805.909 222.400)" font-size="100" fill="#000" ><tspan font-style="italic">r</tspan></text>
<text transform="matrix(0.41064 0 0 0.34800 828.847 205.908)" font-size="100" fill="#000" >=</text>
<text transform="matrix(0.35269 0 0 0.38168 860.289 207.000)" font-size="100" fill="#000">0.75</text>
<rect x="1682.5" y="51.2" width="284.30" height="180.00" fill="#fff" stroke="#222" stroke-width="2.3"/>
<path d="M1690.8 83.7H1807.9" stroke="#ff0000" stroke-width="2.4" stroke-dasharray="21 13" fill="none"/>
<path d="M1690.8 141.8H1807.9" stroke="#00ee00" stroke-width="2.2" stroke-dasharray="17.6 6.1 3.5 7.1" fill="none"/>
<path d="M1690.8 198.2H1807.9" stroke="#0000ff" stroke-width="2.4" stroke-dasharray="17.6 6.1 3.5 7.1" fill="none"/>
<text transform="matrix(0.32639 0 0 0.38626 1820.326 89.900)" font-size="100" fill="#000"><tspan font-style="italic">D</tspan></text>
<text transform="matrix(0.32000 0 0 0.22128 1844.220 105.200)" font-size="100" fill="#000" ><tspan font-style="italic">r</tspan></text>
<text transform="matrix(0.39149 0 0 0.34400 1866.343 88.624)" font-size="100" fill="#000" >=</text>
<text transform="matrix(0.34192 0 0 0.39084 1896.832 89.900)" font-size="100" fill="#000">0.25</text>
<text transform="matrix(0.32639 0 0 0.38626 1820.326 148.000)" font-size="100" fill="#000"><tspan font-style="italic">D</tspan></text>
<text transform="matrix(0.32000 0 0 0.22128 1844.220 163.300)" font-size="100" fill="#000" ><tspan font-style="italic">r</tspan></text>
<text transform="matrix(0.39149 0 0 0.34400 1866.343 146.724)" font-size="100" fill="#000" >=</text>
<text transform="matrix(0.34192 0 0 0.39084 1896.832 148.000)" font-size="100" fill="#000">0.50</text>
<text transform="matrix(0.32639 0 0 0.38626 1820.326 206.100)" font-size="100" fill="#000"><tspan font-style="italic">D</tspan></text>
<text transform="matrix(0.32000 0 0 0.22128 1844.220 221.400)" font-size="100" fill="#000" ><tspan font-style="italic">r</tspan></text>
<text transform="matrix(0.39149 0 0 0.34400 1866.343 204.824)" font-size="100" fill="#000" >=</text>
<text transform="matrix(0.34192 0 0 0.39084 1896.832 206.100)" font-size="100" fill="#000">0.75</text>
<rect x="631.0" y="1058.5" width="292.50" height="201.10" fill="#fff" stroke="#222" stroke-width="2.3"/>
<path d="M639 1096.3H760.6" stroke="#ff0000" stroke-width="3.3" stroke-dasharray="22 12.3" fill="none"/>
<path d="M639 1161.1H760.6" stroke="#00ee00" stroke-width="3.3" stroke-dasharray="17.6 6.1 3.5 7.1" fill="none"/>
<path d="M639 1223.5H760.6" stroke="#0000ff" stroke-width="3.3" stroke-dasharray="17.6 6.1 3.5 7.1" fill="none"/>
<text transform="matrix(0.34028 0 0 0.41221 771.940 1102.500)" font-size="100" fill="#000"><tspan font-style="italic">D</tspan></text>
<text transform="matrix(0.34857 0 0 0.25957 796.606 1119.600)" font-size="100" fill="#000" ><tspan font-style="italic">r</tspan></text>
<text transform="matrix(0.33404 0 0 0.34800 821.030 1100.508)" font-size="100" fill="#000" >=</text>
<text transform="matrix(0.35808 0 0 0.41221 852.068 1102.500)" font-size="100" fill="#000">0.25</text>
<text transform="matrix(0.34028 0 0 0.41221 771.940 1166.800)" font-size="100" fill="#000"><tspan font-style="italic">D</tspan></text>
<text transform="matrix(0.34857 0 0 0.25957 796.606 1183.900)" font-size="100" fill="#000" ><tspan font-style="italic">r</tspan></text>
<text transform="matrix(0.33404 0 0 0.34800 821.030 1164.808)" font-size="100" fill="#000" >=</text>
<text transform="matrix(0.35808 0 0 0.41221 852.068 1166.800)" font-size="100" fill="#000">0.50</text>
<text transform="matrix(0.34028 0 0 0.41221 771.940 1231.900)" font-size="100" fill="#000"><tspan font-style="italic">D</tspan></text>
<text transform="matrix(0.34857 0 0 0.25957 796.606 1249.000)" font-size="100" fill="#000" ><tspan font-style="italic">r</tspan></text>
<text transform="matrix(0.33404 0 0 0.34800 821.030 1229.908)" font-size="100" fill="#000" >=</text>
<text transform="matrix(0.35808 0 0 0.41221 852.068 1231.900)" font-size="100" fill="#000">0.75</text>
<text transform="matrix(0.54660 0 0 0.53333 527.014 939.100)" font-size="100" fill="#000" >(a)</text>
<text transform="matrix(0.54630 0 0 0.52444 1564.615 938.587)" font-size="100" fill="#000" >(b)</text>
<text transform="matrix(0.54757 0 0 0.51333 510.410 1992.020)" font-size="100" fill="#000" >(c)</text>
</svg>
</body></html>
